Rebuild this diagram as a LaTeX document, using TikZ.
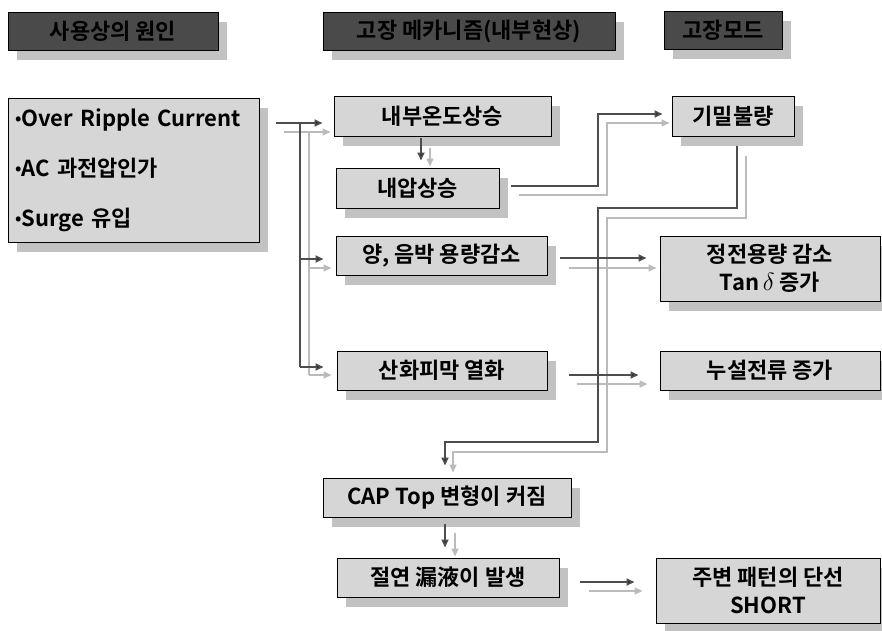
\documentclass[tikz,border=0pt]{standalone}
\usepackage{fontspec}
\setmainfont{Noto Sans CJK KR}[BoldFont={Noto Sans CJK KR Bold}]
\usetikzlibrary{shadows,arrows.meta,calc}
\definecolor{boxfill}{HTML}{D6D6D6}
\definecolor{shadowc}{HTML}{C2C2C2}
\definecolor{headfill}{HTML}{4A4A4A}
\definecolor{darkline}{HTML}{4D4D4D}
\definecolor{greyline}{HTML}{BBBBBB}
\newcommand{\smallbul}{\raisebox{1.5pt}{\fontsize{17}{17}\selectfont•}}
\begin{document}
\begin{tikzpicture}[x=1pt,y=-1pt,
  every node/.style={font=\fontsize{22}{28}\selectfont\bfseries},
  sh/.style={drop shadow={shadow xshift=9pt,shadow yshift=-10pt,fill=shadowc,opacity=1}},
  box/.style={draw=black,line width=1pt,fill=boxfill,sh,inner sep=0pt,align=center},
  headbox/.style={draw=black,line width=1pt,fill=headfill,sh,inner sep=0pt,text=black},
  dk/.style={draw=darkline,line width=1.8pt,arrows={-{Triangle[length=8pt,width=7pt,fill=black]}}},
  dkline/.style={draw=darkline,line width=1.8pt},
  gr/.style={draw=greyline,line width=1.5pt,-{Triangle[length=8pt,width=7pt]}},
  grline/.style={draw=greyline,line width=1.5pt}]
\useasboundingbox (0,0) rectangle (882,630);

% headers
\node[headbox,minimum width=210pt,minimum height=38pt] (H1) at (113,31) {사용상의 원인};
\node[headbox,minimum width=292pt,minimum height=38pt] (H2) at (469,31) {고장 메카니즘(내부현상)};
\node[headbox,minimum width=118pt,minimum height=38pt] (H3) at (723,30) {고장모드};

% boxes
\node[box,minimum width=251pt,minimum height=144pt,text width=237pt,align=left,
      font=\fontsize{22}{50}\selectfont\bfseries] (L) at (133.5,170)
  {\smallbul Over Ripple Current\\\smallbul AC 과전압인가\\\smallbul Surge 유입};
\node[box,minimum width=217pt,minimum height=40pt] (A) at (442.5,116) {내부온도상승};
\node[box,minimum width=163pt,minimum height=40pt] (B) at (417.5,188) {내압상승};
\node[box,minimum width=122pt,minimum height=40pt] (C) at (733,116) {기밀불량};
\node[box,minimum width=211pt,minimum height=39pt] (D) at (441.5,255.5) {양, 음박 용량감소};
\node[box,minimum width=220pt,minimum height=65pt] (E) at (770,268.5) {정전용량 감소\\Tan\,{\fontsize{24}{28}\selectfont$\delta$} 증가};
\node[box,minimum width=210pt,minimum height=39pt] (F) at (442,370.5) {산화피막 열화};
\node[box,minimum width=220pt,minimum height=39pt] (G) at (770,370.5) {누설전류 증가};
\node[box,minimum width=248pt,minimum height=39pt] (H) at (447,497.5) {CAP Top 변형이 커짐};
\node[box,minimum width=222pt,minimum height=39pt] (I) at (448,577.5) {절연 漏液이 발생};
\node[box,minimum width=224pt,minimum height=65pt] (J) at (768,590.5) {주변 패턴의 단선\\SHORT};

% ---- grey (offset) connectors
\draw[gr,shorten >=3pt] ([xshift=24pt]L.east |- 0,132) -- (A.west |- 0,132);
\draw[grline] (309,132) -- (309,375);
\draw[gr,shorten >=4pt] (309,268) -- (D.west |- 0,268);
\draw[gr,shorten >=5pt] (309,375) -- (F.west |- 0,375);
\draw[gr] ([xshift=-12.5pt,yshift=-11pt]A.south) -- ([xshift=12.5pt,yshift=1pt]B.north);
\draw[gr,shorten >=2pt] ([xshift=19pt]B.east |- 0,195) -- (607,195) -- (607,123) -- (C.west |- 0,123);
\draw[gr,shorten >=5pt] ([xshift=13pt,yshift=-19pt]C.south) -- (746,218) -- (607,218) -- (607,452) -- (453,452) -- (H.north -| 453,0);
\draw[gr,shorten >=3pt] ([xshift=21pt]D.east |- 0,268) -- (E.west |- 0,268);
\draw[gr,shorten >=12pt] ([xshift=29pt]F.east |- 0,384) -- (G.west |- 0,384);
\draw[gr,shorten >=1pt] ([xshift=8pt,yshift=-15pt]H.south) -- (I.north -| 455,0);
\draw[gr,shorten >=13pt] ([xshift=29pt]I.east |- 0,591) -- (J.west |- 0,591);

% ---- dark connectors
\draw[dk,shorten >=11pt] ([xshift=16pt]L.east |- 0,123) -- (A.west |- 0,123);
\draw[dkline] (300,123) -- (300,367);
\draw[dk,shorten >=12pt] (300,259) -- (D.west |- 0,259);
\draw[dk,shorten >=13pt] (300,367) -- (F.west |- 0,367);
\draw[dk] ([xshift=-21.5pt,yshift=-1pt]A.south) -- ([xshift=3.5pt,yshift=7pt]B.north);
\draw[dk,shorten >=9pt] ([xshift=11pt]B.east |- 0,186) -- (598,186) -- (598,114) -- (C.west |- 0,114);
\draw[dk,shorten >=12pt] ([xshift=4pt,yshift=-9pt]C.south) -- (737,208) -- (598,208) -- (598,442) -- (445,442) -- (H.north -| 445,0);
\draw[dk,shorten >=13pt] ([xshift=12pt]D.east |- 0,258) -- (E.west |- 0,258);
\draw[dk,shorten >=21pt] ([xshift=21pt]F.east |- 0,375) -- (G.west |- 0,375);
\draw[dk,shorten >=10pt] ([xshift=-2pt,yshift=-6pt]H.south) -- (I.north -| 445,0);
\draw[dk,shorten >=21pt] ([xshift=20pt]I.east |- 0,582) -- (J.west |- 0,582);
\end{tikzpicture}
\end{document}
